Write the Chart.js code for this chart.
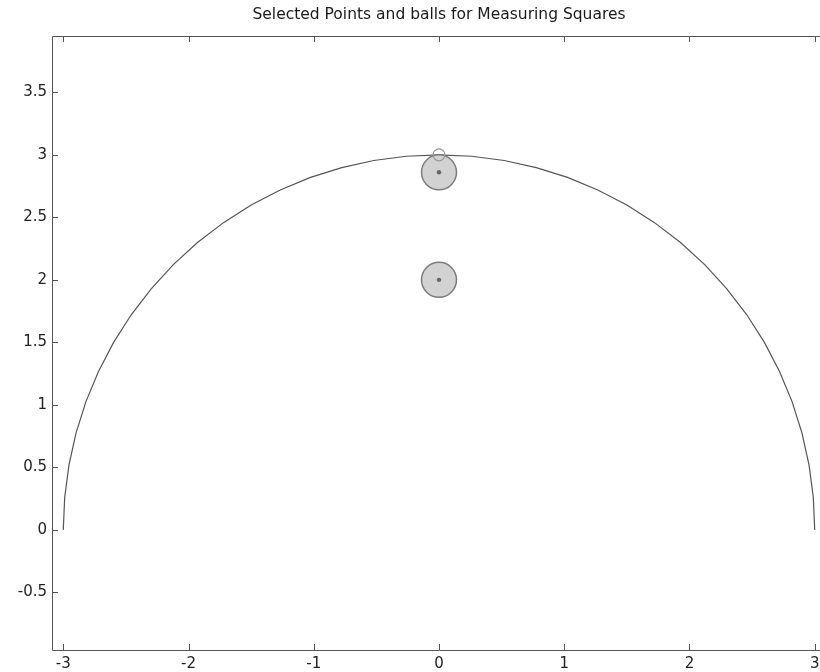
<!DOCTYPE html>
<html>
<head>
<meta charset="utf-8">
<script src="https://cdn.jsdelivr.net/npm/chart.js@4/dist/chart.umd.min.js"></script>
<style>
html,body{margin:0;padding:0;overflow:hidden;background:#fff;}
#c{display:block;}
</style>
</head>
<body>
<canvas id="c" width="830" height="672"></canvas>
<script>
// Semicircle outline points
const arcX = [-3,-2.9886,-2.9544,-2.8978,-2.8191,-2.7189,-2.5981,-2.4575,-2.2981,-2.1213,-1.9284,-1.7207,-1.5,-1.2679,-1.0261,-0.7765,-0.5209,-0.2615,0,0.2615,0.5209,0.7765,1.0261,1.2679,1.5,1.7207,1.9284,2.1213,2.2981,2.4575,2.5981,2.7189,2.8191,2.8978,2.9544,2.9886,3];
const arcY = [0,0.2615,0.5209,0.7765,1.0261,1.2679,1.5,1.7207,1.9284,2.1213,2.2981,2.4575,2.5981,2.7189,2.8191,2.8978,2.9544,2.9886,3,2.9886,2.9544,2.8978,2.8191,2.7189,2.5981,2.4575,2.2981,2.1213,1.9284,1.7207,1.5,1.2679,1.0261,0.7765,0.5209,0.2615,0];
// Ball centers
const ballX = [0, 0];
const ballY = [2.86, 2.0];
// Selected point on the arc
const selX = [0];
const selY = [3.0];
// Axis ticks
const xTicks = [-3,-2,-1,0,1,2,3];
const xTickLabels = ['-3','-2','-1','0','1','2','3'];
const yTicks = [-0.5,0,0.5,1,1.5,2,2.5,3,3.5];
const yTickLabels = ['-0.5','0','0.5','1','1.5','2','2.5','3','3.5'];
const titleText = 'Selected Points and balls for Measuring Squares';

const FONT = '"DejaVu Sans", sans-serif';

const boxPlugin = {
  id: 'matlabBox',
  afterDraw(chart) {
    const {ctx, chartArea: a, scales} = chart;
    ctx.save();
    ctx.strokeStyle = '#555';
    ctx.lineWidth = 1;
    ctx.beginPath();
    ctx.rect(Math.round(a.left)+0.5, Math.round(a.top)+0.5, Math.round(a.right-a.left), Math.round(a.bottom-a.top));
    ctx.stroke();
    const L = 6;
    ctx.beginPath();
    xTicks.forEach(v => {
      const px = Math.round(scales.x.getPixelForValue(v)) + 0.5;
      ctx.moveTo(px, a.bottom); ctx.lineTo(px, a.bottom - L);
      ctx.moveTo(px, a.top); ctx.lineTo(px, a.top + L);
    });
    yTicks.forEach(v => {
      const py = Math.round(scales.y.getPixelForValue(v)) + 0.5;
      ctx.moveTo(a.left, py); ctx.lineTo(a.left + L, py);
      ctx.moveTo(a.right, py); ctx.lineTo(a.right - L, py);
    });
    ctx.stroke();
    ctx.fillStyle = '#1a1a1a';
    ctx.font = '15.5px ' + FONT;
    ctx.textAlign = 'center';
    ctx.textBaseline = 'middle';
    ctx.fillText(titleText, (a.left + a.right) / 2, 15);
    ctx.restore();
  }
};

new Chart(document.getElementById('c'), {
  type: 'scatter',
  data: {
    datasets: [
      {
        label: 'arc',
        data: arcX.map((x, i) => ({x, y: arcY[i]})),
        showLine: true,
        borderColor: '#555',
        borderWidth: 1.2,
        pointRadius: 0,
        fill: false,
        order: 3
      },
      {
        label: 'balls',
        data: ballX.map((x, i) => ({x, y: ballY[i]})),
        pointRadius: 17.5,
        pointHoverRadius: 17.5,
        backgroundColor: '#d2d2d2',
        borderColor: '#7c7c7c',
        borderWidth: 1.5,
        order: 2
      },
      {
        label: 'centers',
        data: ballX.map((x, i) => ({x, y: ballY[i]})),
        pointRadius: 2.2,
        backgroundColor: '#666',
        borderColor: '#666',
        borderWidth: 0,
        order: 1
      },
      {
        label: 'selected',
        data: selX.map((x, i) => ({x, y: selY[i]})),
        pointRadius: 6,
        backgroundColor: 'rgba(0,0,0,0)',
        borderColor: '#999',
        borderWidth: 1.2,
        order: 0
      }
    ]
  },
  options: {
    responsive: false,
    animation: false,
    layout: { autoPadding: false, padding: { top: 36, right: 4, left: 0, bottom: 0 } },
    plugins: { legend: { display: false }, tooltip: { enabled: false }, title: { display: false } },
    scales: {
      x: {
        type: 'linear',
        min: -3.09, max: 3.09,
        afterBuildTicks: s => { s.ticks = xTicks.map(v => ({value: v})); },
        afterFit: s => { s.height = 22; s.paddingLeft = 0; s.paddingRight = 0; },
        grid: { display: false, drawTicks: false },
        border: { display: false },
        ticks: {
          padding: 5,
          color: '#222',
          font: { family: FONT, size: 15 },
          maxRotation: 0,
          autoSkip: false,
          callback: (v) => xTickLabels[xTicks.indexOf(v)]
        }
      },
      y: {
        type: 'linear',
        min: -0.96, max: 3.95,
        afterBuildTicks: s => { s.ticks = yTicks.map(v => ({value: v})); },
        afterFit: s => { s.width = 52; s.paddingTop = 0; s.paddingBottom = 0; },
        grid: { display: false, drawTicks: false },
        border: { display: false },
        ticks: {
          padding: 5,
          color: '#222',
          font: { family: FONT, size: 15 },
          autoSkip: false,
          callback: (v) => yTickLabels[yTicks.indexOf(v)]
        }
      }
    }
  },
  plugins: [boxPlugin]
});
</script>
</body>
</html>
